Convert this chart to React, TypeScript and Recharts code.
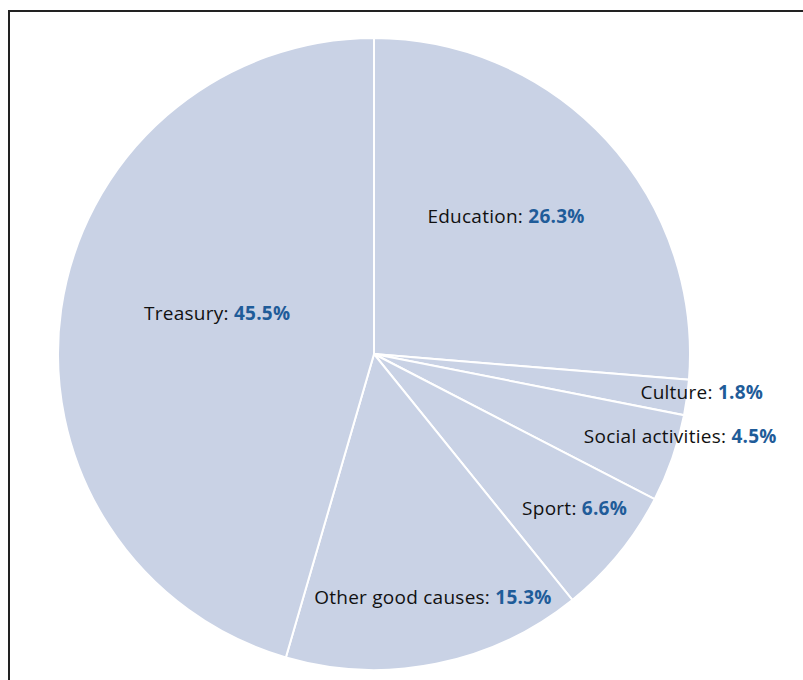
import * as React from "react";
import { PieChart, Pie, Cell } from "recharts";

const categories = ["Education", "Culture", "Social activities", "Sport", "Other good causes", "Treasury"];
const shares = [26.3, 1.8, 4.5, 6.6, 15.3, 45.5];

// label placement per slice: distance from centre and a small clockwise nudge (deg)
const labelRadius = [191, 330, 317, 253, 250, 162];
const labelNudge = [-3.6, -1.3, -4.3, -1.7, -2.3, 6.5];

const FILL = "#c9d2e5";
const VALUE_COLOR = "#1f5c99";
const FONT = "'Open Sans', 'Noto Sans', sans-serif";
const RAD = Math.PI / 180;

const data = categories.map((name, i) => ({ name, value: shares[i] }));

function renderLabel(props: any) {
  const { cx, cy, midAngle, index } = props;
  const angle = midAngle - labelNudge[index];
  const r = labelRadius[index];
  const x = cx + r * Math.cos(-angle * RAD);
  const y = cy + r * Math.sin(-angle * RAD);
  return (
    <text
      x={x}
      y={y}
      textAnchor="middle"
      dominantBaseline="central"
      fontFamily={FONT}
      fontSize={19}
      letterSpacing={0.25}
      fill="#111"
    >
      {categories[index]}:{" "}
      <tspan fontWeight="bold" fill={VALUE_COLOR}>
        {shares[index].toFixed(1)}%
      </tspan>
    </text>
  );
}

export default function App() {
  return (
    <div
      style={{
        position: "fixed",
        left: 0,
        top: 0,
        width: 803,
        height: 680,
        overflow: "hidden",
        background: "#fff",
      }}
    >
      <div
        style={{
          position: "absolute",
          left: 8,
          top: 10,
          width: 820,
          height: 700,
          borderTop: "2px solid #222",
          borderLeft: "2px solid #222",
        }}
      />
      <div style={{ position: "absolute", left: 0, top: 0 }}>
        <PieChart width={803} height={680} margin={{ top: 0, right: 0, bottom: 0, left: 0 }}>
          <Pie
            data={data}
            dataKey="value"
            nameKey="name"
            cx={374}
            cy={354}
            outerRadius={316}
            startAngle={90}
            endAngle={-270}
            stroke="#fff"
            strokeWidth={2}
            label={renderLabel}
            labelLine={false}
            isAnimationActive={false}
          >
            {data.map((d) => (
              <Cell key={d.name} fill={FILL} />
            ))}
          </Pie>
        </PieChart>
      </div>
    </div>
  );
}
